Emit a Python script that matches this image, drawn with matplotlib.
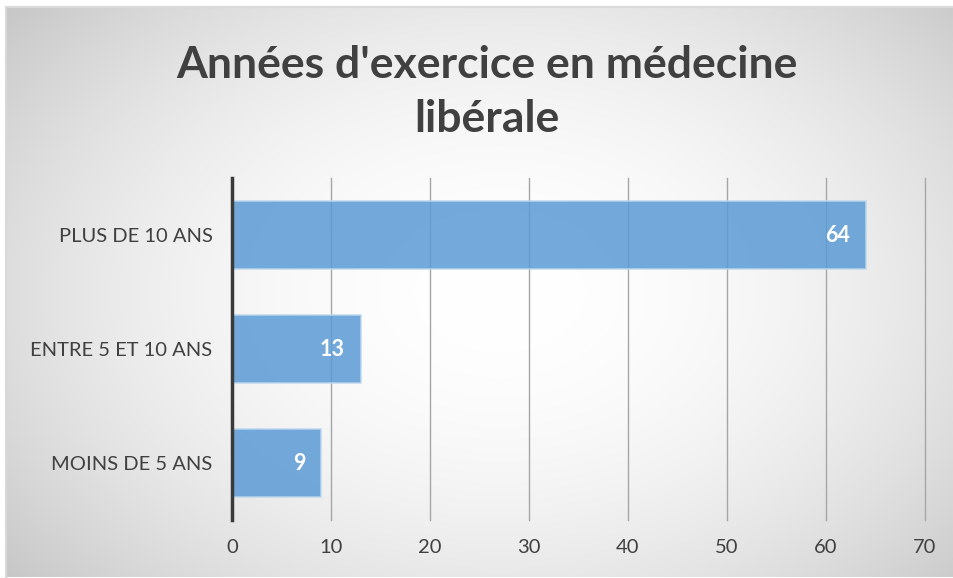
import numpy as np
import matplotlib
matplotlib.use("Agg")
import matplotlib.pyplot as plt

categories = ["MOINS DE 5 ANS", "ENTRE 5 ET 10 ANS", "PLUS DE 10 ANS"]
values = [9, 13, 64]
xticks = [0, 10, 20, 30, 40, 50, 60, 70]
title = "Années d'exercice en médecine\nlibérale"

plt.rcParams['font.family'] = ['Lato', 'DejaVu Sans']

W, H = 954, 578
fig = plt.figure(figsize=(W / 100, H / 100), dpi=100)
fig.patch.set_facecolor("white")

# background gradient panel
x0, y0 = 6 / W, 1 - 577 / H
bg = fig.add_axes([x0, y0, 1 - x0, 1 - 7 / H - y0], zorder=0)
bg.set_axis_off()
ny, nx = 300, 500
yy, xx = np.mgrid[0:ny, 0:nx]
cx, cy = 0.52 * nx, 0.50 * ny
r = np.sqrt(((xx - cx) / (nx * 0.64)) ** 2 + ((yy - cy) / (ny * 0.75)) ** 2)
r = np.clip(r, 0, 1.2)
g = 1.0 - 0.20 * r ** 2.0
img = np.dstack([g, g, g])
bg.imshow(img, aspect="auto", extent=[0, 1, 0, 1], interpolation="bilinear")
bg.plot([0, 0, 1], [0, 1, 1], color="#d9d9d9", lw=1.5, transform=bg.transAxes, clip_on=False)

ax = fig.add_axes([232 / W, 1 - 520 / H, (925 - 232) / W, (520 - 178) / H], zorder=1)
ax.patch.set_alpha(0)
ypos = np.arange(len(categories))
ax.barh(ypos, values, height=0.6, color="#5B9BD5", alpha=0.85,
        edgecolor="#BDD7EE", linewidth=1.2, zorder=2)
ax.set_xlim(0, 70)
ax.set_ylim(-0.5, 2.5)
ax.set_xticks(xticks)
ax.set_xticklabels([str(t) for t in xticks])
ax.set_yticks(ypos)
ax.set_yticklabels(categories)
for t in xticks[1:]:
    ax.axvline(t, color="#a6a6a6", linewidth=1.0, zorder=1, clip_on=False)
for s in ["top", "right", "bottom"]:
    ax.spines[s].set_visible(False)
ax.spines["left"].set_color("#3a3a3a")
ax.spines["left"].set_linewidth(2.5)
ax.spines["left"].set_zorder(3)
ax.tick_params(axis="both", length=0, labelsize=14.5, colors="#404040")
ax.tick_params(axis="x", pad=14)
ax.tick_params(axis="y", pad=14)

for y, v in zip(ypos, values):
    ax.text(v - 1.6, y, str(v), ha="right", va="center", color="white",
            fontsize=15.5, fontweight="bold", zorder=4)

fig.text(487 / W, 1 - 92 / H, title, ha="center", va="center", fontsize=32,
         fontweight="bold", color="#404040", linespacing=1.45)

fig.savefig("out.png", dpi=100)
